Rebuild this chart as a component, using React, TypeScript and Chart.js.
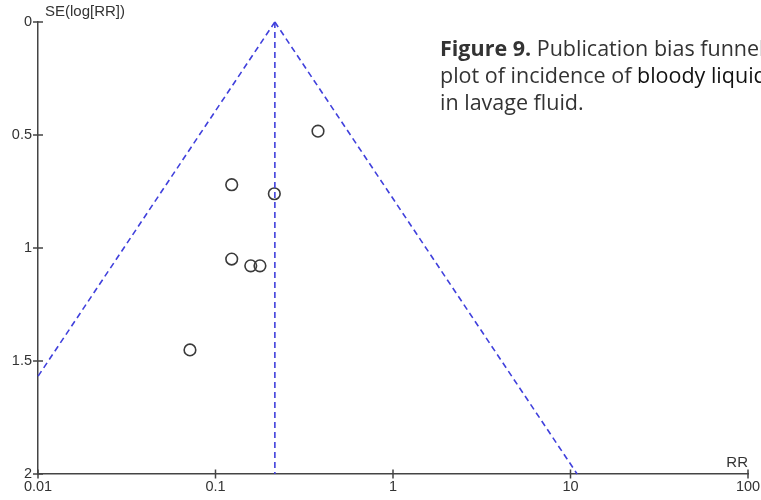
import React, { useEffect, useRef } from "react";
import { Chart, registerables } from "chart.js";
Chart.register(...registerables);

// Tick values
const xTicks = [0.01, 0.1, 1, 10, 100];
const yTicks = [0, 0.5, 1, 1.5, 2];

// Studies (RR, SE of log RR)
const studyRR = [0.378, 0.1234, 0.2145, 0.1234, 0.158, 0.178, 0.0718];
const studySE = [0.483, 0.72, 0.76, 1.049, 1.079, 1.079, 1.451];

// Pooled estimate and funnel limits
const pooledRR = [0.216, 0.216];
const pooledSE = [0, 2];
const funnelLeftRR = [0.216, 0.01];
const funnelLeftSE = [0, 1.568];
const funnelRightRR = [0.216, 10.9];
const funnelRightSE = [0, 2];

const FONT = "'Liberation Sans', Arial, sans-serif";
const BLUE = "#4040dc";

const toPts = (xs: number[], ys: number[]) => xs.map((x, i) => ({ x, y: ys[i] }));

const axisPlugin = {
  id: "axisExtras",
  afterDraw(chart: any) {
    const ctx = chart.ctx;
    const xs = chart.scales.x;
    const ys = chart.scales.y;
    const area = chart.chartArea;
    ctx.save();
    ctx.strokeStyle = "#444";
    ctx.lineWidth = 1.5;
    ctx.beginPath();
    xTicks.forEach((v) => {
      const px = xs.getPixelForValue(v);
      ctx.moveTo(px, area.bottom - 4.5);
      ctx.lineTo(px, area.bottom + 4.5);
    });
    yTicks.forEach((v) => {
      const py = ys.getPixelForValue(v);
      ctx.moveTo(area.left - 5, py);
      ctx.lineTo(area.left + 5, py);
    });
    ctx.stroke();
    ctx.fillStyle = "#333";
    ctx.font = `15px ${FONT}`;
    ctx.textBaseline = "middle";
    ctx.textAlign = "left";
    ctx.fillText("SE(log[RR])", area.left + 7, area.top - 10);
    ctx.textAlign = "right";
    ctx.fillText("RR", area.right, area.bottom - 11);
    ctx.restore();
  },
};

const lineDs = (xs: number[], ys: number[]) =>
  ({
    type: "line",
    data: toPts(xs, ys),
    borderColor: BLUE,
    borderWidth: 1.6,
    borderDash: [6, 4],
    pointRadius: 0,
    fill: false,
    clip: false,
  } as any);

export default function App() {
  const ref = useRef<HTMLCanvasElement | null>(null);
  useEffect(() => {
    if (!ref.current) return;
    const chart = new Chart(ref.current, {
      type: "scatter",
      data: {
        datasets: [
          lineDs(funnelLeftRR, funnelLeftSE),
          lineDs(funnelRightRR, funnelRightSE),
          lineDs(pooledRR, pooledSE),
          {
            data: toPts(studyRR, studySE),
            pointStyle: "circle",
            pointRadius: 5.8,
            pointBorderWidth: 1.6,
            pointBorderColor: "#3a3a3a",
            pointBackgroundColor: "rgba(0,0,0,0)",
            showLine: false,
          } as any,
        ],
      },
      options: {
        animation: false,
        responsive: false,
        layout: { padding: { top: 22, right: 13, left: 0, bottom: 0 } },
        plugins: { legend: { display: false }, tooltip: { enabled: false } },
        scales: {
          x: {
            type: "logarithmic",
            min: 0.01,
            max: 100,
            grid: { display: false, drawTicks: false },
            border: { display: true, color: "#444", width: 1.5 },
            afterBuildTicks: (s: any) => {
              s.ticks = xTicks.map((v) => ({ value: v }));
            },
            afterFit: (s: any) => {
              s.height = 26;
              s.paddingLeft = 0;
              s.paddingRight = 0;
            },
            ticks: {
              padding: 4,
              color: "#333",
              font: { family: FONT, size: 14.5 },
              autoSkip: false,
              maxRotation: 0,
              callback: (v: any) => String(v),
            },
          },
          y: {
            type: "linear",
            reverse: true,
            min: 0,
            max: 2,
            grid: { display: false, drawTicks: false },
            border: { display: true, color: "#444", width: 1.5 },
            afterBuildTicks: (s: any) => {
              s.ticks = yTicks.map((v) => ({ value: v }));
            },
            afterFit: (s: any) => {
              s.width = 38;
              s.paddingTop = 0;
              s.paddingBottom = 0;
            },
            ticks: {
              padding: 6,
              color: "#333",
              font: { family: FONT, size: 14.5 },
              callback: (v: any) => String(v),
            },
          },
        },
      } as any,
      plugins: [axisPlugin],
    });
    return () => chart.destroy();
  }, []);

  return (
    <div
      style={{
        position: "absolute",
        left: 0,
        top: 0,
        width: 761,
        height: 500,
        overflow: "hidden",
        background: "#fff",
      }}
    >
      <canvas ref={ref} width={761} height={500} style={{ position: "absolute", left: 0, top: 0 }} />
      <div
        style={{
          position: "absolute",
          left: 440,
          top: 34,
          whiteSpace: "nowrap",
          fontFamily: "'Open Sans', 'Noto Sans', sans-serif",
          fontSize: 21.5,
          lineHeight: "27px",
          color: "#333",
        }}
      >
        <b style={{ fontWeight: 700 }}>Figure 9.</b> Publication bias funnel
        <br />
        plot of incidence of <span style={{ color: "#111" }}>bloody liquid</span>
        <br />
        in lavage fluid.
      </div>
    </div>
  );
}
